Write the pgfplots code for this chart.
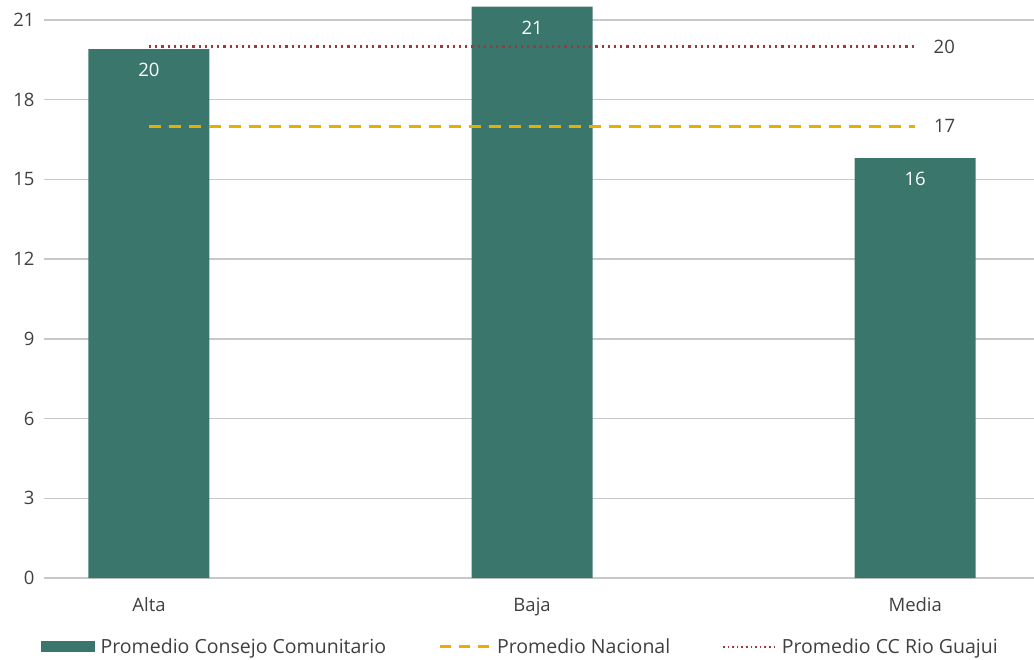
\documentclass[border=0pt]{standalone}
\usepackage{pgfplots}
\pgfplotsset{compat=1.18}
\usepackage{fontspec}
\setmainfont{Open Sans}
\definecolor{barc}{HTML}{3B766D}
\definecolor{yelc}{HTML}{E5B000}
\definecolor{redc}{HTML}{9B3A3A}
\definecolor{gridc}{HTML}{C8C8C8}
\definecolor{labc}{HTML}{404040}
\newcommand{\ff}{\fontsize{18.5}{22}\selectfont}
\newcommand{\lf}{\fontsize{19.5}{22}\selectfont}
\begin{document}
\begin{tikzpicture}
\path[use as bounding box] (-44pt,-81pt) rectangle (990pt,578pt);
\begin{axis}[
  at={(0,0)}, anchor=south west,
  scale only axis, width=990pt, height=574pt,
  xmin=-0.274, xmax=2.31, ymin=0, ymax=21.6,
  axis line style={draw=none}, tick style={draw=none},
  ytick={0,3,...,21}, ymajorgrids,
  grid style={color=gridc, line width=1.5pt},
  xtick={0,1,2}, xticklabels={Alta,Baja,Media},
  tick label style={font=\ff, text=labc},
  yticklabel style={xshift=-6pt},
  xticklabel style={yshift=-16pt},
  /pgf/number format/assume math mode=true,
  clip=false,
  legend columns=3,
  legend style={draw=none, fill=none, font=\lf, text=labc,
    at={(0.481,-0.12)}, anchor=center,
    /tikz/every even column/.append style={column sep=50pt},
    /tikz/every odd column/.append style={column sep=4pt}},
  legend cell align=left,
]
\addplot[ybar, bar width=121pt, fill=barc, draw=none,
  point meta=explicit symbolic,
  nodes near coords,
  nodes near coords style={anchor=center, yshift=-21pt, text=white, font=\ff},
  legend image code/.code={\fill[barc] (0pt,-5.5pt) rectangle (54pt,5.5pt);}]
  coordinates {(0,19.9) [20] (1,21.5) [21] (2,15.8) [16]};
\addlegendentry{Promedio Consejo Comunitario}
\addplot[color=yelc, line width=3pt, dash pattern=on 12pt off 8pt,
  legend image code/.code={\draw[yelc, line width=3pt, dash pattern=on 11pt off 8pt] (0pt,0pt) -- (50pt,0pt);}]
  coordinates {(0,17) (2,17)}
  node[pos=1, anchor=west, xshift=14pt, text=labc, font=\ff] {17};
\addlegendentry{Promedio Nacional}
\addplot[color=redc, line width=2.2pt, dash pattern=on 2.2pt off 4pt,
  legend image code/.code={\draw[redc, line width=1.6pt, dash pattern=on 1.6pt off 3pt] (0pt,0pt) -- (52pt,0pt);}]
  coordinates {(0,20) (2,20)}
  node[pos=1, anchor=west, xshift=14pt, text=labc, font=\ff] {20};
\addlegendentry{Promedio CC Rio Guajui}
\end{axis}
\end{tikzpicture}
\end{document}
